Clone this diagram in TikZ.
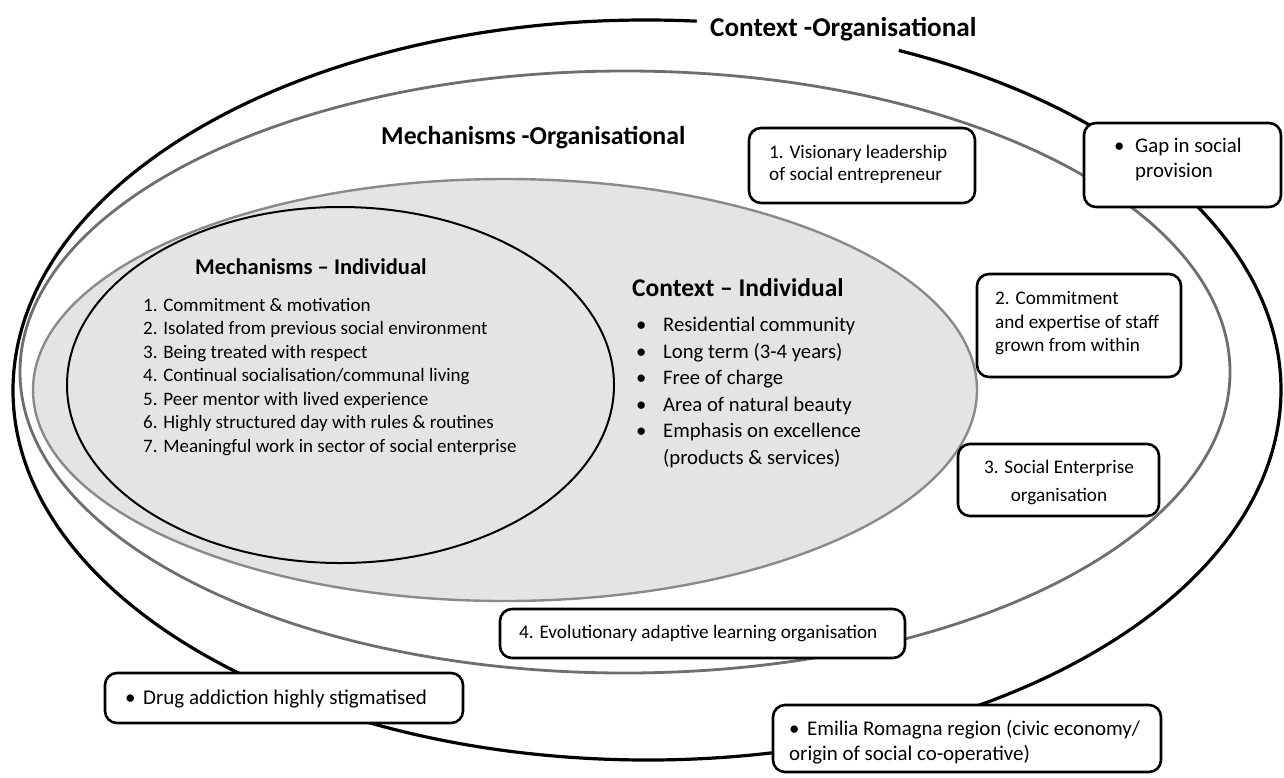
\documentclass[tikz,border=0pt]{standalone}
\usepackage{fontspec}
\setmainfont{Carlito}
\definecolor{fillgray}{HTML}{E4E4E4}
\definecolor{bordergray}{HTML}{8A8A8A}
\definecolor{midgray}{HTML}{6E6E6E}
\begin{document}
\begin{tikzpicture}[x=1pt,y=-1pt,
  box/.style={draw=black, line width=2.6pt, rounded corners=12pt, fill=white, inner sep=0pt},
  txt/.style={anchor=base west, inner sep=0pt, font=\fontsize{19.2}{23}\selectfont},
  txtc/.style={anchor=base, inner sep=0pt, font=\fontsize{19.2}{23}\selectfont},
  head/.style={anchor=base west, inner sep=0pt, font=\bfseries\fontsize{25.8}{30}\selectfont}]
\useasboundingbox (0,0) rectangle (1284,777);
\fill[white] (0,0) rectangle (1284,777);

% ellipses
\draw[fill=fillgray, draw=bordergray, line width=2.4pt] (505,390) ellipse [x radius=472pt, y radius=211pt];
\draw[line width=2pt] (340.5,385) ellipse [x radius=273.5pt, y radius=178pt];
\draw[draw=midgray, line width=2.8pt] (625,372) ellipse [x radius=605pt, y radius=301pt];
\draw[line width=3.2pt] (647,390) ++(85.5:634pt and 370pt)
  arc[start angle=85.5, end angle=426.6, x radius=634pt, y radius=370pt];

% headings
\node[head, font=\bfseries\fontsize{27.2}{32}\selectfont] (ctxorg) at (710,36) {Context -Organisational};
\node[head] (mechorg) at (381,144) {Mechanisms -Organisational};
\node[head, font=\bfseries\fontsize{22.5}{27}\selectfont] (mechind) at (195,274.5) {Mechanisms – Individual};
\node[head, font=\bfseries\fontsize{25.5}{30}\selectfont] (ctxind) at (632,296) {Context – Individual};

% individual mechanisms list
\foreach \t [count=\i] in {{1. Commitment \& motivation},
  {2. Isolated from previous social environment},
  {3. Being treated with respect},
  {4. Continual socialisation/communal living},
  {5. Peer mentor with lived experience},
  {6. Highly structured day with rules \& routines},
  {7. Meaningful work in sector of social enterprise}}
  \node[txt, font=\fontsize{19}{23}\selectfont] (mi\i) at (143,{311+23.5*(\i-1)}) {\t};

% individual context list
\foreach \t [count=\i] in {{Residential community},
  {Long term (3-4 years)},
  {Free of charge},
  {Area of natural beauty},
  {Emphasis on excellence}}
  \node[txt, font=\fontsize{20.7}{25}\selectfont] (ci\i) at (636,{331.5+26.5*(\i-1)}) {\makebox[27pt][l]{\textbullet}\t};
\node[txt, font=\fontsize{20.7}{25}\selectfont] (ci6) at (663,464) {(products \& services)};

% boxes
\node[box, minimum width=226pt, minimum height=75pt] (b1) at (862,165.5) {};
\node[box, minimum width=197pt, minimum height=84pt] (gap) at (1182.5,165) {};
\node[box, minimum width=204pt, minimum height=103pt] (b2) at (1079,325.5) {};
\node[box, minimum width=201pt, minimum height=72pt] (b3) at (1058.5,480) {};
\node[box, minimum width=405pt, minimum height=49pt] (b4) at (702.5,633.5) {};
\node[box, minimum width=358pt, minimum height=50pt] (drug) at (284,698) {};
\node[box, minimum width=388pt, minimum height=67pt] (emil) at (967,738.5) {};

% box texts
\node[txt] (b1a) at (769,158) {1. Visionary leadership};
\node[txt] (b1b) at (769,180) {of social entrepreneur};
\node[txt, font=\fontsize{20.8}{25}\selectfont] (gapa) at (1114,152) {\makebox[21pt][l]{\textbullet}Gap in social};
\node[txt, font=\fontsize{20.8}{25}\selectfont] (gapb) at (1135,177) {provision};
\node[txt] (b2a) at (995,304) {2. Commitment};
\node[txt] (b2b) at (995,328) {and expertise of staff};
\node[txt] (b2c) at (995,351) {grown from within};
\node[txtc] (b3a) at (1059,473) {3. Social Enterprise};
\node[txtc] (b3b) at (1059,501) {organisation};
\node[txt] (b4a) at (519,638.5) {4. Evolutionary adaptive learning organisation};
\node[txt, font=\fontsize{21}{25}\selectfont] (druga) at (125,704) {\makebox[18pt][l]{\textbullet}Drug addiction highly stigmatised};
\node[txt, font=\fontsize{20.9}{25}\selectfont] (emila) at (789,735.5) {\makebox[18pt][l]{\textbullet}Emilia Romagna region (civic economy/};
\node[txt, font=\fontsize{20.9}{25}\selectfont] (emilb) at (789,760.5) {origin of social co-operative)};
\end{tikzpicture}
\end{document}
